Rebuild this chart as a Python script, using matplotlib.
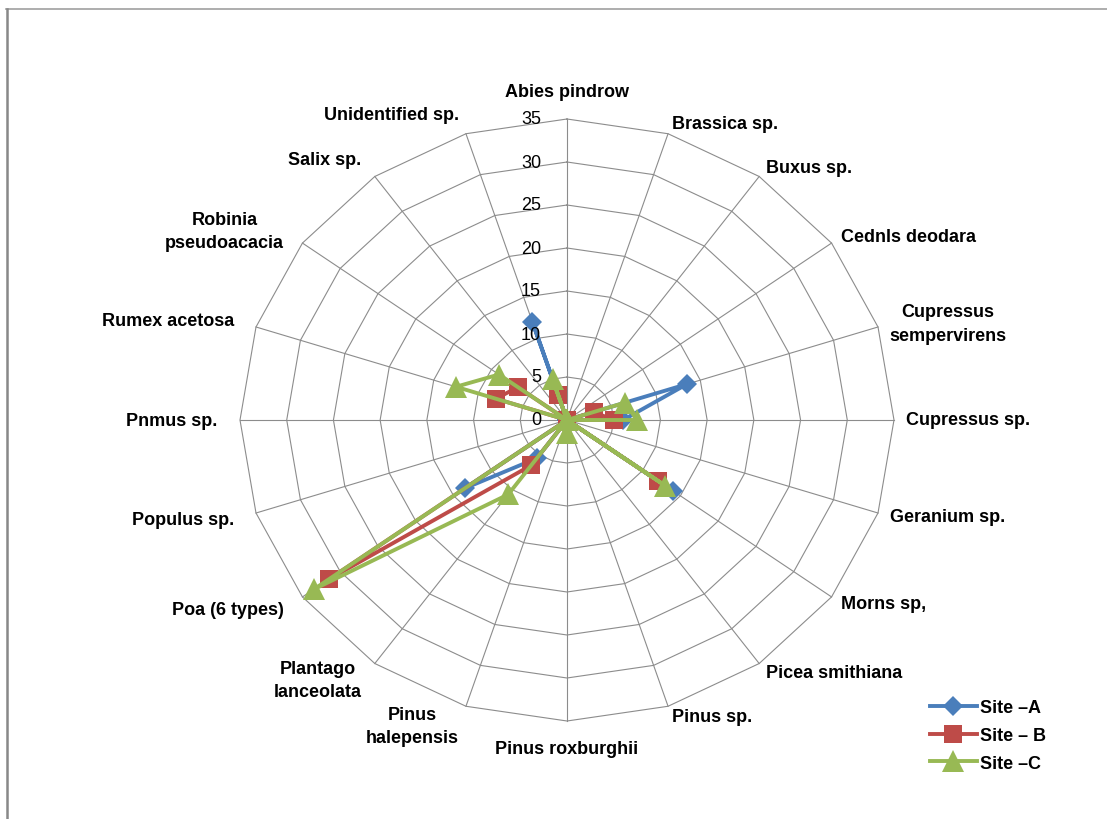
import numpy as np
import matplotlib
matplotlib.use("Agg")
import matplotlib.pyplot as plt
from matplotlib.lines import Line2D
from matplotlib.transforms import offset_copy

species = ["Abies pindrow", "Brassica sp.", "Buxus sp.", "Cednls deodara",
           "Cupressus\nsempervirens", "Cupressus sp.", "Geranium sp.", "Morns sp,",
           "Picea smithiana", "Pinus sp.", "Pinus roxburghii", "Pinus\nhalepensis",
           "Plantago\nlanceolata", "Poa (6 types)", "Populus sp.", "Pnmus sp.",
           "Rumex acetosa", "Robinia\npseudoacacia", "Salix sp.", "Unidentified sp."]

site_a = [0, 0, 0, 0, 13.5, 6, 0, 14, 0, 0, 0, 0, 5.5, 13.5, 0, 0, 0, 0, 0, 12]
site_b = [0, 0, 0, 0, 3, 5, 0, 12, 0, 0, 0, 0, 6.5, 31.5, 0, 0, 8, 6.5, 0, 3]
site_c = [0, 0, 0, 0, 6.5, 7.5, 0, 13, 0, 0, 1.5, 0, 10.7, 33.5, 0, 0, 12.5, 9, 0, 5]

ring_levels = [0, 5, 10, 15, 20, 25, 30, 35]
series_names = ["Site \u2013A", "Site \u2013 B", "Site \u2013C"]

plt.rcParams['font.family'] = ['Liberation Sans', 'DejaVu Sans']

W, H = 1107, 820
fig = plt.figure(figsize=(W / 100, H / 100), dpi=100)

# radar area is a bit wider than tall, so let the polar axes stretch
ax = fig.add_axes([240 / W, 98 / H, 654 / W, 602 / H], projection='polar')
ax.set_theta_zero_location('N')
ax.set_theta_direction(-1)
ax.set_aspect('auto')
ax.set_ylim(0, ring_levels[-1])
ax.grid(False)
ax.set_xticks([])
ax.set_yticks([])
ax.spines['polar'].set_visible(False)
ax.patch.set_visible(False)

n = len(species)
theta = np.deg2rad(np.arange(n) * 360.0 / n)
theta_closed = np.append(theta, theta[0])

grid_color = '#8c8c8c'
for lvl in ring_levels[1:]:
    ax.plot(theta_closed, [lvl] * (n + 1), color=grid_color, lw=0.8, zorder=1, clip_on=False)
for t in theta:
    ax.plot([t, t], [0, ring_levels[-1]], color=grid_color, lw=0.8, zorder=1, clip_on=False)

styles = [
    (site_a, '#4a7ebb', 'D', 10.5),
    (site_b, '#be4b48', 's', 13.5),
    (site_c, '#98b954', '^', 16),
]
handles = []
for (vals, col, mk, ms), name in zip(styles, series_names):
    v = np.append(vals, vals[0])
    h, = ax.plot(theta_closed, v, color=col, lw=2.8, marker=mk, markersize=ms,
                 markeredgewidth=0, label=name, zorder=3, clip_on=False)
    handles.append(h)

# category labels round the outside
for t, name in zip(theta, species):
    s = np.sin(t)
    if abs(s) < 0.05:
        ha, r = 'center', 38.2
    elif s > 0:
        ha, r = 'left', 36.3
    else:
        ha, r = 'right', 37.4
    ax.text(t, r, name, ha=ha, va='center', fontsize=13, fontweight='bold',
            multialignment='center', linespacing=1.5, zorder=4)

# value labels to the left of the top spoke
trans = offset_copy(ax.transData, fig=fig, x=-26, y=0, units='dots')
for lvl in ring_levels:
    ax.text(0, lvl, str(lvl), transform=trans, ha='right', va='center',
            fontsize=13, zorder=4)

ax.legend(handles=handles, loc='upper left', bbox_to_anchor=(930 / W, 1 - 700 / H),
          bbox_transform=fig.transFigure, frameon=False, borderpad=0, borderaxespad=0,
          handlelength=2.6, handletextpad=0.15, labelspacing=0.6,
          prop={'size': 13, 'weight': 'bold'})

# thin chart-area border on the top and left
fig.add_artist(Line2D([6 / W, 1], [1 - 10 / H, 1 - 10 / H], transform=fig.transFigure,
                      color='#a0a0a0', lw=1.2))
fig.add_artist(Line2D([7 / W, 7 / W], [0, 1 - 10 / H], transform=fig.transFigure,
                      color='#888888', lw=1.8))

fig.savefig('out.png', dpi=100)
